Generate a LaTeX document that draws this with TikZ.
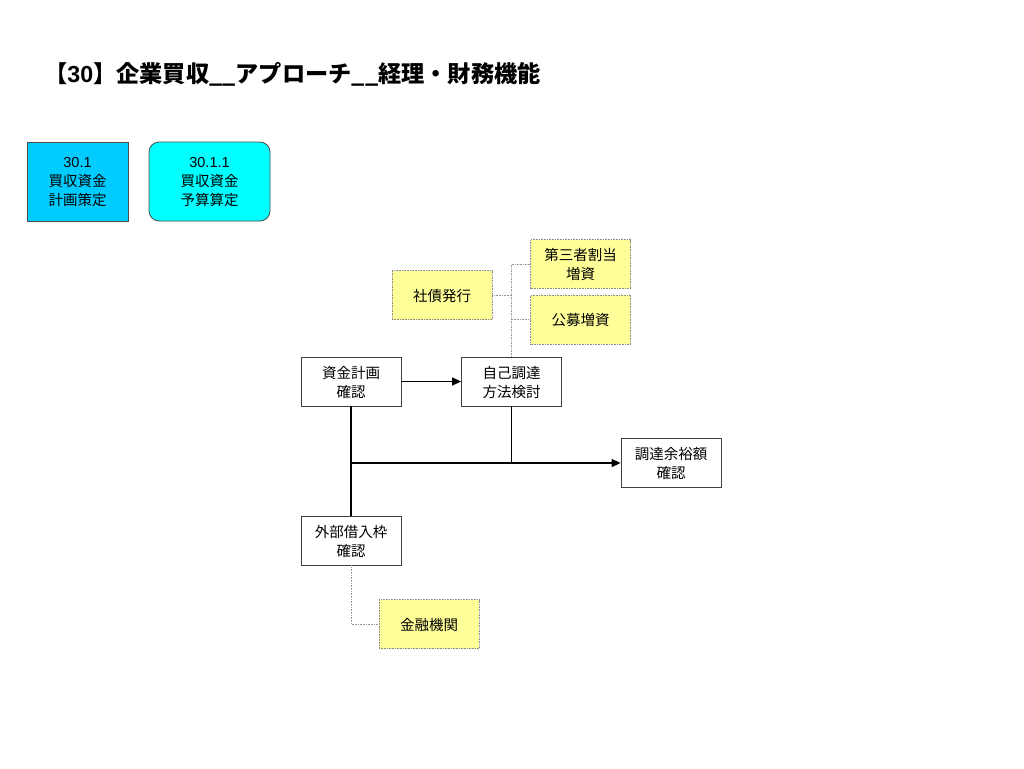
\documentclass[tikz,border=0pt]{standalone}
\usepackage{fontspec}
\setmainfont{Liberation Sans}
\newfontfamily\jp{Noto Sans CJK JP}
\usetikzlibrary{arrows.meta}
\definecolor{boxblue}{HTML}{00CCFF}
\definecolor{boxcyan}{HTML}{00FFFF}
\definecolor{noteyel}{HTML}{FFFF99}
\tikzset{
  base/.style={minimum width=100pt, minimum height=49pt, align=center, inner sep=1pt, font=\jp\fontsize{14.5}{19}\selectfont, text depth=0pt},
  procbox/.style={base, draw=black!75, fill=white, line width=0.8pt},
  notebox/.style={base, draw=black!45, fill=noteyel, densely dotted, line width=0.6pt},
  mainline/.style={draw=black, line width=1.3pt},
  noteline/.style={draw=black!40, densely dotted, line width=0.6pt},
  arr/.style={-{Triangle[length=9pt,width=8pt]}}
}
\begin{document}
\begin{tikzpicture}[x=1pt,y=-1pt]
\useasboundingbox (0,0) rectangle (1024,768);
\node[anchor=west, inner sep=0pt, font=\jp\bfseries\fontsize{23.2}{27}\selectfont] (title) at (44,74) {【{\rmfamily\bfseries 30}】企業買収\_\_アプローチ\_\_経理・財務機能};

\node[base, draw=black!70, fill=boxblue, minimum width=101pt, minimum height=79pt, line width=0.8pt] (a) at (77.5,181.5) {{\rmfamily 30.1}\\買収資金\\計画策定};
\node[base, draw=black!70, fill=boxcyan, rounded corners=10pt, minimum width=121pt, minimum height=79pt, line width=0.8pt] (b) at (209.5,181.5) {{\rmfamily 30.1.1}\\買収資金\\予算算定};

\node[notebox] (shasai) at (442,295) {社債発行};
\node[notebox] (daisan) at (580.5,264) {第三者割当\\増資};
\node[notebox] (koubo) at (580.5,319.5) {公募増資};

\node[procbox] (shikin) at (351,381.5) {資金計画\\確認};
\node[procbox] (jiko) at (511.5,381.5) {自己調達\\方法検討};
\node[procbox] (yoyu) at (671,463) {調達余裕額\\確認};
\node[procbox] (gaibu) at (351,540.5) {外部借入枠\\確認};
\node[notebox] (kinyu) at (429,624) {金融機関};

\coordinate (j1) at (shikin.south |- yoyu.west);
\coordinate (j2) at (jiko.south |- yoyu.west);

\draw[mainline, arr] (shikin) -- (jiko);
\draw[mainline] (shikin.south) -- (gaibu.north);
\draw[mainline] (jiko.south) -- (j2);
\draw[mainline, arr] (j1) -- (yoyu.west);

\draw[noteline] (jiko.north) -- (jiko.north |- daisan.west) -- (daisan.west);
\draw[noteline] (shasai.east) -- (jiko.north |- shasai.east);
\draw[noteline] (koubo.west) -- (jiko.north |- koubo.west);
\draw[noteline] (gaibu.south) -- (gaibu.south |- kinyu.west) -- (kinyu.west);
\end{tikzpicture}
\end{document}
